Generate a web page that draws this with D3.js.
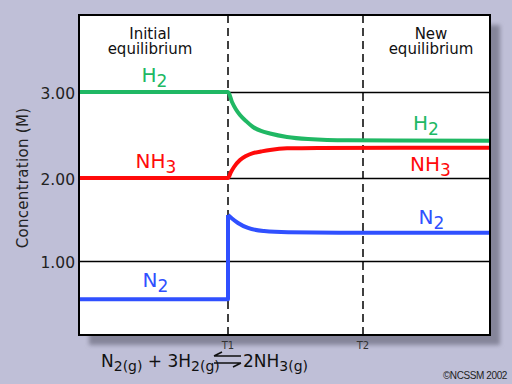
<!DOCTYPE html>
<html><head><meta charset="utf-8">
<script src="https://cdn.jsdelivr.net/npm/d3@7"></script>
<style>
body{margin:0;background:#bfbfd7;}
svg{display:block;font-family:"DejaVu Sans",Verdana,sans-serif;}
</style>
</head><body><svg width="512" height="384"></svg>
<script>
// ---- data ----
const yTicks = [1, 2, 3];
const yTickLabels = ["1.00", "2.00", "3.00"];
const markers = ["T1", "T2"];
const markerTimes = [149, 284];
const timeEnd = 411;
const h2Times  = [0, 149, 153, 157, 161, 167, 174, 182, 191, 208, 229, 269, 411];
const h2Values = [3.0, 3.0, 2.884, 2.797, 2.733, 2.663, 2.593, 2.547, 2.517, 2.477, 2.453, 2.438, 2.434];
const nh3Times  = [0, 149, 152, 155, 161, 167, 174, 182, 191, 208, 239, 411];
const nh3Values = [2.0, 2.0, 2.07, 2.128, 2.209, 2.256, 2.29, 2.308, 2.326, 2.345, 2.35, 2.352];
const n2Times  = [0, 149, 149, 153, 159, 169, 185, 209, 260, 411];
const n2Values = [0.54, 0.54, 1.554, 1.512, 1.458, 1.398, 1.361, 1.346, 1.341, 1.34];
const n2JumpIndex = 2; // the point where the step ends and the decay begins
const seriesNames  = ["H", "NH", "N"];
const seriesSubs   = ["2", "3", "2"];
const seriesColors = ["#20b864", "#ff0a0a", "#3050ff"];
const labelLeft  = [[75.5, 3.116], [77, 2.116], [76.5, 0.687]];
const labelRight = [[347, 2.558], [351.5, 2.081], [352.5, 1.446]];

const svg = d3.select("svg");
const W = 512, H = 384;
const plot = {l: 79, r: 490, t: 15, b: 335};

const x = d3.scaleLinear().domain([0, timeEnd]).range([plot.l, plot.r]);
const y = d3.scaleLinear().domain([1, 2, 3]).range([261, 178, 92]);

// background
svg.append("rect").attr("width", W).attr("height", H).attr("fill", "#bfbfd7");

// shadow
const defs = svg.append("defs");
defs.append("filter").attr("id", "blur").attr("x", "-10%").attr("y", "-10%").attr("width", "120%").attr("height", "120%")
  .append("feGaussianBlur").attr("stdDeviation", 2);
svg.append("rect")
  .attr("x", plot.l + 10).attr("y", plot.t + 10)
  .attr("width", plot.r - plot.l).attr("height", plot.b - plot.t)
  .attr("fill", "#85859a").attr("filter", "url(#blur)");

// plot area
svg.append("rect")
  .attr("x", plot.l).attr("y", plot.t)
  .attr("width", plot.r - plot.l).attr("height", plot.b - plot.t)
  .attr("fill", "#ffffff");

// y axis with gridlines
const yAxis = d3.axisLeft(y)
  .tickValues(yTicks)
  .tickFormat((d, i) => yTickLabels[i])
  .tickSize(-(plot.r - plot.l))
  .tickPadding(4);
const gy = svg.append("g").attr("transform", `translate(${plot.l},0)`).call(yAxis);
gy.select(".domain").remove();
gy.selectAll(".tick line").attr("stroke", "#000").attr("stroke-width", 1.5);
gy.selectAll(".tick text").attr("fill", "#222").attr("font-size", 15.5)
  .attr("font-family", "DejaVu Sans, Verdana, sans-serif").attr("dy", "0.4em");

// dashed vertical markers
svg.selectAll("line.marker").data(markerTimes).join("line")
  .attr("class", "marker")
  .attr("x1", d => x(d)).attr("x2", d => x(d))
  .attr("y1", plot.t).attr("y2", plot.b)
  .attr("stroke", "#000").attr("stroke-width", 1.5)
  .attr("stroke-dasharray", "8,5");

// marker labels
svg.selectAll("text.mlabel").data(markers).join("text")
  .attr("class", "mlabel")
  .attr("x", (d, i) => x(markerTimes[i]))
  .attr("y", 349)
  .attr("text-anchor", "middle")
  .attr("font-size", 10).attr("fill", "#333")
  .text(d => d);

// series
const smooth = d3.line().x(d => x(d[0])).y(d => y(d[1])).curve(d3.curveMonotoneX);
const straight = d3.line().x(d => x(d[0])).y(d => y(d[1]));
function drawPath(pts, gen, color) {
  svg.append("path").datum(pts)
    .attr("d", gen)
    .attr("fill", "none")
    .attr("stroke", color)
    .attr("stroke-width", 4)
    .attr("stroke-linejoin", "round");
}
const zip = (ts, vs) => ts.map((t, j) => [t, vs[j]]);
drawPath(zip(h2Times, h2Values), smooth, seriesColors[0]);
drawPath(zip(nh3Times, nh3Values), smooth, seriesColors[1]);
const n2Pts = zip(n2Times, n2Values);
drawPath(n2Pts.slice(0, n2JumpIndex + 1), straight, seriesColors[2]);
drawPath(n2Pts.slice(n2JumpIndex), smooth, seriesColors[2]);

// series labels
function addLabel(pos, i) {
  const t = svg.append("text")
    .attr("x", x(pos[0])).attr("y", y(pos[1]))
    .attr("text-anchor", "middle")
    .attr("font-size", 20)
    .attr("fill", seriesColors[i]);
  t.append("tspan").text(seriesNames[i]);
  t.append("tspan").attr("font-size", 17).attr("dy", 5).text(seriesSubs[i]);
}
labelLeft.forEach((p, i) => addLabel(p, i));
labelRight.forEach((p, i) => addLabel(p, i));

// frame
svg.append("rect")
  .attr("x", plot.l).attr("y", plot.t)
  .attr("width", plot.r - plot.l).attr("height", plot.b - plot.t)
  .attr("fill", "none").attr("stroke", "#000").attr("stroke-width", 2);

// phase headers
function header(cx, lines) {
  const t = svg.append("text").attr("x", cx).attr("y", 39)
    .attr("text-anchor", "middle").attr("font-size", 15).attr("fill", "#111");
  lines.forEach((s, k) => {
    t.append("tspan").attr("x", cx).attr("dy", k === 0 ? 0 : 14.5).text(s);
  });
}
header(150, ["Initial", "equilibrium"]);
header(431, ["New", "equilibrium"]);

// y title
svg.append("text")
  .attr("transform", "translate(28,178) rotate(-90)")
  .attr("text-anchor", "middle")
  .attr("font-size", 15).attr("fill", "#222")
  .attr("letter-spacing", 0.3)
  .text("Concentration (M)");

// equation
const eqL = svg.append("text").attr("x", 101).attr("y", 367).attr("font-size", 17).attr("fill", "#111");
eqL.append("tspan").text("N");
eqL.append("tspan").attr("font-size", 14).attr("dy", 4).text("2(g)");
eqL.append("tspan").attr("dy", -4).text(" + 3H");
eqL.append("tspan").attr("font-size", 14).attr("dy", 4).text("2(g)");

const eqR = svg.append("text").attr("x", 243).attr("y", 367).attr("font-size", 17).attr("fill", "#111");
eqR.append("tspan").text("2NH");
eqR.append("tspan").attr("font-size", 14).attr("dy", 4).text("3(g)");

// equilibrium arrows
const arr = svg.append("g").attr("stroke", "#111").attr("stroke-width", 1.6).attr("fill", "none");
arr.append("path").attr("d", "M214,356 L241,356 M214,356 L222,352");
arr.append("path").attr("d", "M214,363 L241,363 M241,363 L233,367");

// copyright
svg.append("text").attr("x", 507).attr("y", 379).attr("text-anchor", "end")
  .attr("font-size", 10).attr("fill", "#222").attr("letter-spacing", -0.4)
  .attr("font-family", "Liberation Sans, Arial, sans-serif")
  .text("©NCSSM 2002");
</script>
</body></html>
